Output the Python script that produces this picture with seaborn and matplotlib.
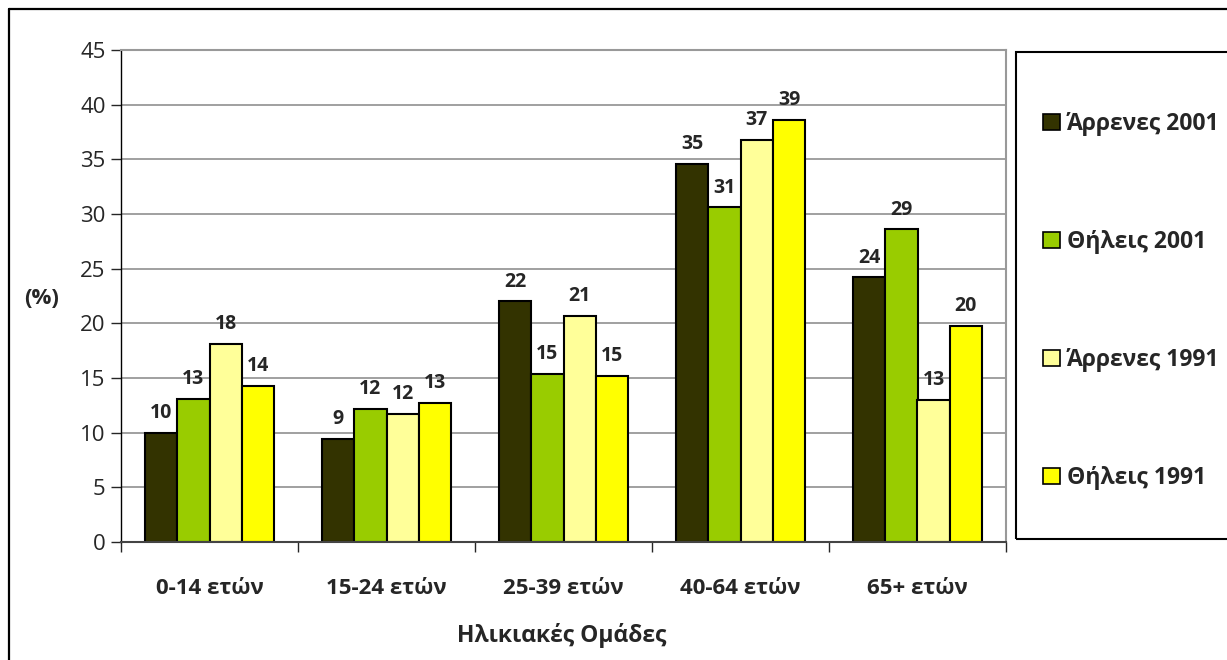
import matplotlib
matplotlib.use("Agg")
import matplotlib.pyplot as plt
import seaborn as sns
import pandas as pd
from matplotlib.lines import Line2D
from matplotlib.patches import Rectangle

# dados
categorias = ["0-14 ετών", "15-24 ετών", "25-39 ετών", "40-64 ετών", "65+ ετών"]
series = ["Άρρενες 2001", "Θήλεις 2001", "Άρρενες 1991", "Θήλεις 1991"]
arrenes_2001 = [10.0, 9.45, 22.0, 34.6, 24.2]
theleis_2001 = [13.1, 12.2, 15.4, 30.6, 28.6]
arrenes_1991 = [18.1, 11.7, 20.7, 36.8, 13.0]
theleis_1991 = [14.3, 12.7, 15.2, 38.6, 19.8]
cores = ["#333300", "#99CC00", "#FFFF99", "#FFFF00"]

valores = [arrenes_2001, theleis_2001, arrenes_1991, theleis_1991]
linhas = []
for s, vals in zip(series, valores):
    for c, v in zip(categorias, vals):
        linhas.append({"cat": c, "serie": s, "valor": v})
df = pd.DataFrame(linhas)

sns.set_style("white")
plt.rcParams["font.family"] = ["Open Sans", "Noto Sans", "DejaVu Sans"]

W, H = 1227, 660
fig = plt.figure(figsize=(W / 100, H / 100), dpi=100)
ax = fig.add_axes([121 / W, 1 - 542 / H, (1006 - 121) / W, (542 - 50) / H])

sns.barplot(
    data=df, x="cat", y="valor", hue="serie",
    order=categorias, hue_order=series,
    palette=cores, saturation=1, width=0.73, gap=0,
    edgecolor="black", linewidth=1.5,
    legend=False, ax=ax
)

for cont in ax.containers:
    ax.bar_label(cont, fmt="%.0f", padding=7, fontsize=14, fontweight="bold")

ax.set_ylim(0, 45)
ax.set_yticks(range(0, 50, 5))
ax.set_xlim(-0.5, 4.5)
ax.tick_params(axis="y", labelsize=16, length=7, width=1, direction="out", left=True, pad=4)

# ticks nas fronteiras, rótulos no centro
ax.set_xticks([i - 0.5 for i in range(6)])
ax.set_xticklabels([])
ax.set_xticks(range(5), minor=True)
ax.set_xticklabels(categorias, minor=True, fontsize=16, fontweight="bold")
ax.tick_params(axis="x", which="major", length=7, width=1, direction="out", bottom=True)
ax.tick_params(axis="x", which="minor", length=0, pad=26)

ax.yaxis.grid(True, color="#999999", linewidth=1.3)
ax.set_axisbelow(True)
for lado in ["top", "right"]:
    ax.spines[lado].set_color("#999999")
    ax.spines[lado].set_linewidth(1.5)
ax.spines["left"].set_color("black")
ax.spines["left"].set_linewidth(1)
ax.spines["bottom"].set_color("#444444")
ax.spines["bottom"].set_linewidth(1.5)

ax.set_xlabel("")
ax.set_ylabel("")
fig.text(42 / W, 1 - 298 / H, "(%)", fontsize=16, fontweight="bold", ha="center", va="center")
fig.text(562 / W, 1 - 636 / H, "Ηλικιακές Ομάδες", fontsize=16.5, fontweight="bold", ha="center", va="center")

# caixa da legenda
fig.patches.append(Rectangle((1016 / W, 1 - 539 / H), (W + 20 - 1016) / W, (539 - 52) / H,
                             transform=fig.transFigure, fill=False, edgecolor="black",
                             linewidth=1.5, clip_on=False))
handles = [Rectangle((0, 0), 1, 1, facecolor=c, edgecolor="black", linewidth=1.2) for c in cores]
fig.legend(handles, series, loc="center left", bbox_to_anchor=(1022 / W, 1 - 301 / H),
           frameon=False, prop={"weight": "bold", "size": 16.5},
           labelspacing=4.1, handlelength=0.75, handleheight=0.75, handletextpad=0.3)

# moldura externa
fig.add_artist(Line2D([9 / W, 9 / W], [0, 1 - 9 / H], color="black", linewidth=1.6, transform=fig.transFigure))
fig.add_artist(Line2D([9 / W, 1], [1 - 9 / H, 1 - 9 / H], color="black", linewidth=1.6, transform=fig.transFigure))

plt.savefig("out.png", dpi=100)
